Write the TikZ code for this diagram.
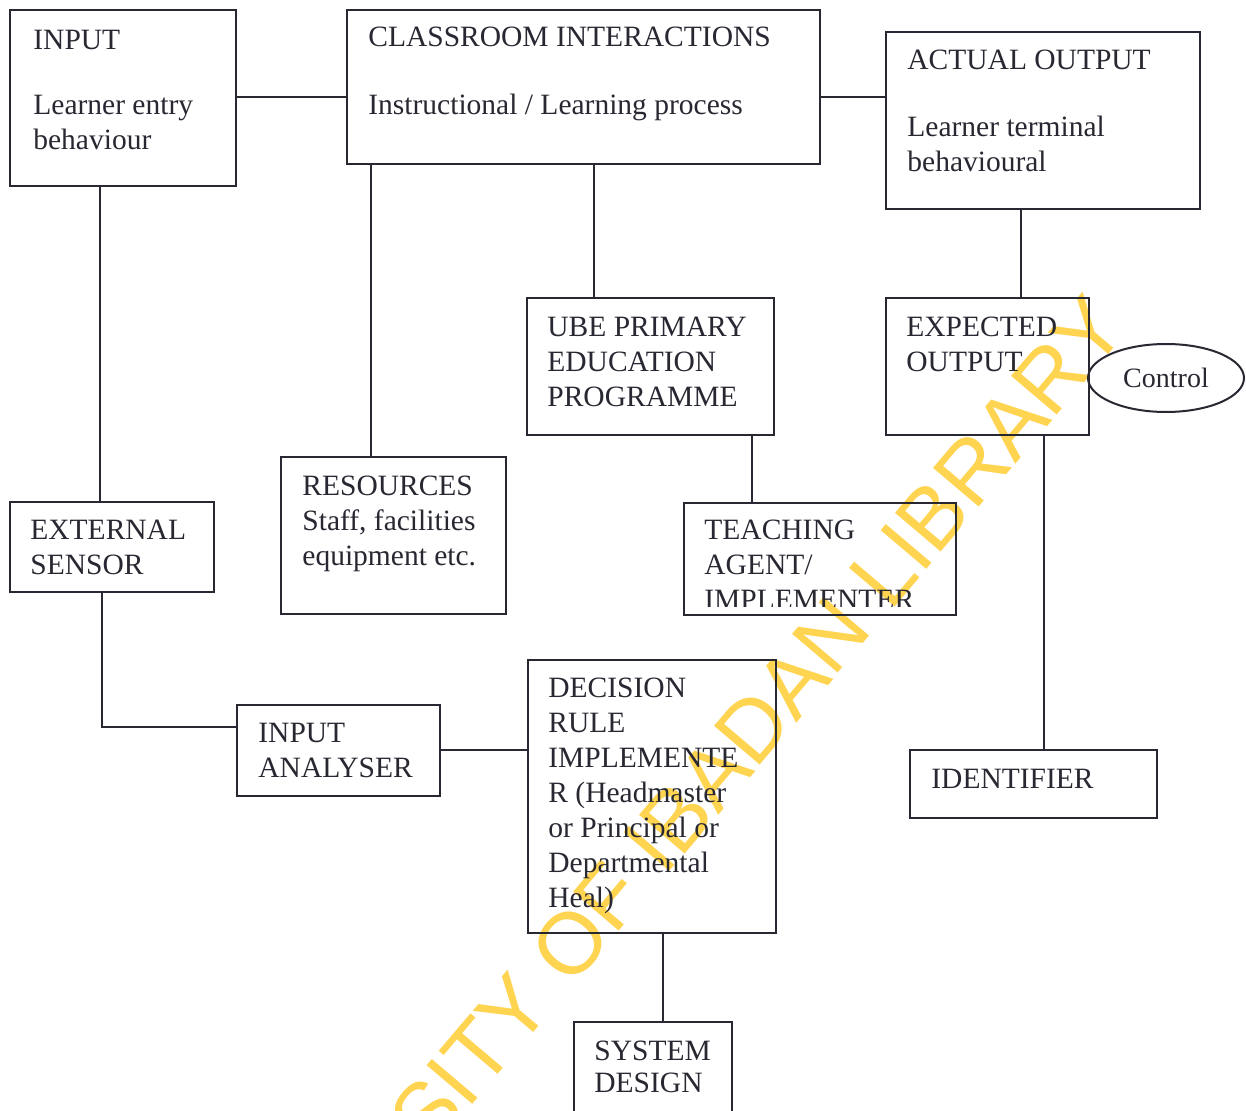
\documentclass[tikz,border=0pt]{standalone}
\usepackage{fontspec}
\setmainfont{Liberation Serif}
\newfontfamily\wmfont{Liberation Sans}
\usetikzlibrary{fit,shapes.geometric}
\definecolor{ink}{RGB}{40,40,50}
\definecolor{wm}{RGB}{255,212,80}
\begin{document}
\begin{tikzpicture}[x=0.5pt,y=-0.5pt,
 box/.style={draw=ink,line width=1pt,inner sep=0pt},
 txt/.style={anchor=north west,inner sep=0pt,align=left,text=ink,font=\fontsize{14.75pt}{17.5pt}\selectfont},
 wire/.style={draw=ink,line width=1pt}]
\useasboundingbox (0,0) rectangle (1246,1111);
\clip (0,0) rectangle (1246,1111);
\fill[white] (0,0) rectangle (1246,1111);
\node[rotate=49.7, text=wm, font=\wmfont\fontsize{43.5pt}{50pt}\selectfont, inner sep=0pt] (wmark) at (651,848) {UNIVERSITY OF IBADAN LIBRARY};

% boxes
\node[box, fit={(10,10) (236,186)}] (inp) {};
\node[txt] (inpt) at (33,30) {INPUT\\[15pt]Learner entry\\behaviour};
\node[box, fit={(347,10) (820,164)}] (cls) {};
\node[txt] (clst) at (368,27) {CLASSROOM INTERACTIONS\\[16.5pt]Instructional / Learning process};
\node[box, fit={(886,32) (1200,209)}] (act) {};
\node[txt] (actt) at (907,50) {ACTUAL OUTPUT\\[16pt]Learner terminal\\behavioural};
\node[box, fit={(527,298) (774,435)}] (ube) {};
\node[txt] (ubet) at (547,317) {UBE PRIMARY\\EDUCATION\\PROGRAMME};
\node[box, fit={(886,298) (1089,435)}] (exp) {};
\node[txt] (expt) at (906,317) {EXPECTED\\OUTPUT};
\node[draw=ink, line width=1pt, ellipse, minimum width=78pt, minimum height=34pt, inner sep=0pt, text=ink, font=\fontsize{14pt}{17pt}\selectfont] (ctl) at (1166,378) {Control};
\node[box, fit={(281,457) (506,614)}] (res) {};
\node[txt] (rest) at (302,476) {RESOURCES\\Staff, facilities\\equipment etc.};
\node[box, fit={(10,502) (214,592)}] (ext) {};
\node[txt] (extt) at (30,520) {EXTERNAL\\SENSOR};
\node[box, fit={(684,503) (956,615)}] (tea) {};
\begin{scope}
\clip (684,503) rectangle (956,606);
\node[txt] (teat) at (704,520) {TEACHING\\AGENT/\\IMPLEMENTER};
\end{scope}
\node[box, fit={(237,705) (440,796)}] (ana) {};
\node[txt] (anat) at (258,723) {INPUT\\ANALYSER};
\node[box, fit={(528,660) (776,933)}] (dec) {};
\node[txt] (dect) at (548,678) {DECISION\\RULE\\IMPLEMENTE\\R (Headmaster\\or Principal or\\Departmental\\Heal)};
\node[box, fit={(910,750) (1157,818)}] (idf) {};
\node[txt] (idft) at (931,769) {IDENTIFIER};
\node[box, fit={(574,1022) (732,1130)}] (sys) {};
\node[txt] (syst) at (594,1041) {SYSTEM\\[-1.5pt]DESIGN};

% connectors
\draw[wire] (inp.east |- 0,97) -- (cls.west |- 0,97);
\draw[wire] (cls.east |- 0,97) -- (act.west |- 0,97);
\draw[wire] (inp.south -| 100,0) -- (ext.north -| 100,0);
\draw[wire] (cls.south -| 371,0) -- (res.north -| 371,0);
\draw[wire] (cls.south -| 594,0) -- (ube.north -| 594,0);
\draw[wire] (act.south -| 1021,0) -- (exp.north -| 1021,0);
\draw[wire] (ube.south -| 752,0) -- (tea.north -| 752,0);
\draw[wire] (exp.south -| 1044,0) -- (idf.north -| 1044,0);
\draw[wire] (ext.south -| 102,0) |- (ana.west |- 0,727);
\draw[wire] (ana.east |- 0,750) -- (dec.west |- 0,750);
\draw[wire] (dec.south -| 663,0) -- (sys.north -| 663,0);
\end{tikzpicture}
\end{document}
